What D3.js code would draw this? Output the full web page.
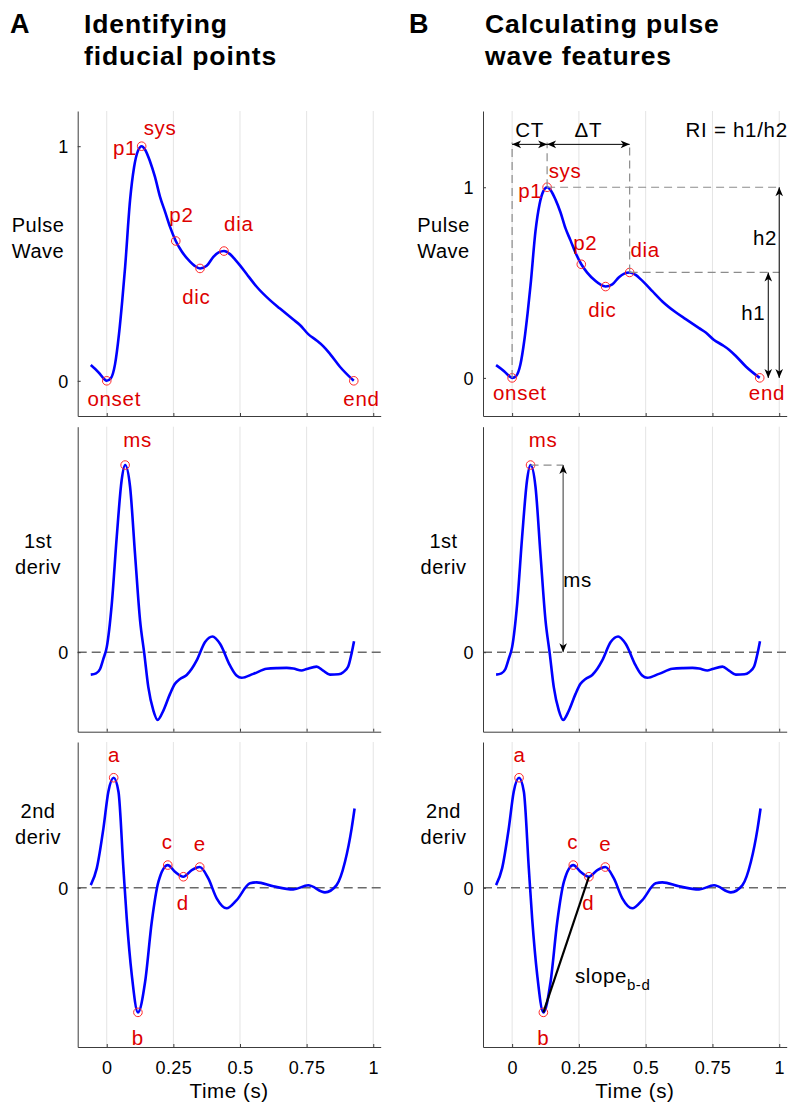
<!DOCTYPE html>
<html><head><meta charset="utf-8">
<script src="https://cdn.jsdelivr.net/npm/d3@7"></script>
<style>
body{margin:0;background:#fff}
svg{display:block}
text{font-family:"Liberation Sans", Arial, Helvetica, sans-serif}
</style>
</head><body>
<svg id="c" width="800" height="1117"></svg>
<script>
// ---------------- DATA ----------------
const xTicks = [0, 0.25, 0.5, 0.75, 1];
const xTickLabels = ["0", "0.25", "0.5", "0.75", "1"];

// Pulse wave (normalised)
const pulseT = [-0.06,-0.03,-0.01,0,0.015,0.031,0.046,0.058,0.069,0.0875,0.1025,0.117,0.131,0.144,0.1625,0.181,0.2,0.219,0.2375,0.259,0.281,0.3125,0.33,0.35,0.375,0.4,0.42,0.44,0.4625,0.481,0.5,0.525,0.5625,0.6125,0.65,0.7,0.725,0.756,0.7875,0.812,0.8375,0.875,0.927];
const pulseV = [0.067,0.035,0.008,0,0.01,0.07,0.2,0.34,0.486,0.77,0.91,0.98,1.0,0.985,0.935,0.869,0.784,0.72,0.656,0.596,0.552,0.508,0.49,0.479,0.49,0.528,0.547,0.553,0.54,0.518,0.492,0.455,0.401,0.344,0.308,0.261,0.238,0.199,0.172,0.148,0.115,0.06,0];

// First derivative (scaled so ms = 1)
const d1T = [-0.06,-0.04,-0.025,-0.0125,0,0.019,0.0375,0.056,0.069,0.0875,0.106,0.125,0.141,0.156,0.175,0.191,0.2125,0.2375,0.256,0.275,0.3,0.319,0.3375,0.369,0.397,0.425,0.4625,0.487,0.506,0.55,0.6,0.64,0.675,0.7,0.731,0.75,0.7875,0.812,0.8375,0.87,0.8875,0.906,0.919,0.928];
const d1V = [-0.12,-0.113,-0.09,-0.035,0.027,0.26,0.616,0.92,1.0,0.884,0.527,0.17,-0.009,-0.187,-0.312,-0.362,-0.312,-0.223,-0.169,-0.143,-0.122,-0.089,-0.044,0.054,0.084,0.045,-0.071,-0.125,-0.137,-0.116,-0.089,-0.085,-0.084,-0.087,-0.098,-0.09,-0.077,-0.098,-0.12,-0.118,-0.107,-0.077,-0.005,0.059];

// Second derivative (scaled so a = 1)
const d2T = [-0.06,-0.0375,-0.0125,0.006,0.026,0.044,0.0625,0.075,0.094,0.117,0.144,0.169,0.194,0.229,0.256,0.2875,0.319,0.349,0.381,0.4125,0.45,0.4875,0.5375,0.5625,0.625,0.7,0.756,0.819,0.8625,0.894,0.919,0.93];
const d2V = [0.024,0.176,0.54,0.873,1.0,0.873,0.176,-0.278,-0.794,-1.133,-0.855,-0.309,0.055,0.206,0.145,0.1,0.16,0.188,0.085,-0.096,-0.187,-0.112,0.04,0.049,0.013,-0.015,0.022,-0.042,0.024,0.236,0.54,0.72];

// Fiducial points
const pulseFidT = [0, 0.131, 0.259, 0.35, 0.44, 0.927];
const pulseFidV = [0, 1, 0.596, 0.479, 0.553, 0];
const pulseLabelNames = ["onset","sys","p1","p2","dic","dia","end"];
const pulseLabelIdx = [0,1,1,2,3,4,5];

const d1FidT = [0.069];
const d1FidV = [1];
const d1LabelNames = ["ms"];

const d2FidT = [0.026, 0.117, 0.229, 0.2875, 0.349];
const d2FidV = [1, -1.133, 0.206, 0.1, 0.188];
const d2LabelNames = ["a","b","c","d","e"];

// Feature annotation values (panel B)
const arrowLevel = 1.225;       // height of CT / ΔT arrows (pulse units)
const dashTop = 1.235;
const h2X = 1.0, h1X = 0.959;   // time positions of h2 / h1 arrows
const msArrowX = 0.191;

// ---------------- LAYOUT ----------------
const FONT = '"Liberation Sans", Arial, Helvetica, sans-serif';
const RED = "#dd0000";
const svg = d3.select("#c");
const defs = svg.append("defs");
defs.append("marker").attr("id","ah").attr("viewBox","-10 -5 10 10")
  .attr("refX",0).attr("refY",0).attr("markerWidth",10).attr("markerHeight",10)
  .attr("markerUnits","userSpaceOnUse").attr("orient","auto-start-reverse")
  .append("path").attr("d","M0,0 L-9,-3.8 L-6.5,0 L-9,3.8 Z").attr("fill","#000");

const cols = [{x0:77.7, x1:380.7, ylab:38}, {x0:483, x1:786.7, ylab:443.5}];
const rows = [{top:111, bot:416}, {top:426.7, bot:731.7}, {top:742, bot:1047}];
const xDomain = [-0.109, 1.028];

function makeX(c){ return d3.scaleLinear().domain(xDomain).range([c.x0, c.x1]); }

function drawPanel(c, r, yDom, tArr, vArr, opts){
  const x = makeX(c);
  const y = d3.scaleLinear().domain(yDom).range([r.bot, r.top]);
  const g = svg.append("g");
  g.selectAll(".grid").data(xTicks).join("line")
    .attr("x1", d=>x(d)).attr("x2", d=>x(d)).attr("y1", r.top).attr("y2", r.bot)
    .attr("stroke","#e4e4e4").attr("stroke-width",1);
  if (opts.zero){
    g.append("line").attr("x1",c.x0).attr("x2",c.x1).attr("y1",y(0)).attr("y2",y(0))
      .attr("stroke","#6a6a6a").attr("stroke-width",1.5).attr("stroke-dasharray","9,5");
  }
  const ax = g.append("g").attr("transform",`translate(0,${r.bot})`)
    .call(d3.axisBottom(x).tickValues(xTicks).tickSize(-3).tickSizeOuter(0).tickPadding(14)
      .tickFormat((d,i)=> opts.xlabels ? xTickLabels[i] : ""));
  const ay = g.append("g").attr("transform",`translate(${c.x0},0)`)
    .call(d3.axisLeft(y).tickValues(opts.yticks).tickSize(-3).tickSizeOuter(0).tickPadding(9)
      .tickFormat(d3.format("d")));
  [ax, ay].forEach(a=>{
    a.attr("font-family", FONT).attr("font-size", 18);
    a.select(".domain").attr("stroke","#3c3c3c").attr("stroke-width",1);
    a.selectAll(".tick line").attr("stroke","#3c3c3c");
    a.selectAll(".tick text").attr("fill","#000").style("letter-spacing","0.4px");
  });
  ay.selectAll(".tick text").attr("dy","0.35em");
  const curve = d3.line().x((d,i)=>x(tArr[i])).y((d,i)=>y(vArr[i])).curve(d3.curveMonotoneX);
  g.append("path").attr("d", curve(tArr)).attr("fill","none").attr("stroke","#0000ff")
    .attr("stroke-width",2.6).attr("stroke-linejoin","round");
  return {g, x, y};
}

function markers(p, ft, fv){
  p.g.selectAll(".mk").data(ft).join("circle")
    .attr("cx",(d,i)=>p.x(ft[i])).attr("cy",(d,i)=>p.y(fv[i])).attr("r",4.3)
    .attr("fill","none").attr("stroke","#ff2a2a").attr("stroke-width",1);
}

function labels(p, names, idx, ft, fv, offs){
  names.forEach((n,k)=>{
    const i = idx[k];
    p.g.append("text").attr("x", p.x(ft[i]) + offs[n][0]).attr("y", p.y(fv[i]) + offs[n][1])
      .attr("text-anchor","middle").attr("font-size",20.5).attr("fill",RED)
      .style("letter-spacing","0.7px").text(n);
  });
}

function ylabel(c, lines, y0){
  lines.forEach((l,i)=>{
    svg.append("text").attr("x",c.ylab).attr("y",y0 + i*26).attr("text-anchor","middle")
      .attr("font-size",20).style("letter-spacing","0.5px").attr("fill","#000").text(l);
  });
}

function heading(x, letter, x2, lines){
  svg.append("text").attr("x",x).attr("y",33).attr("font-size",27).attr("font-weight","bold").text(letter);
  lines.forEach((l,i)=> svg.append("text").attr("x",x2).attr("y",33+i*32).attr("font-size",26.5)
    .attr("font-weight","bold").style("letter-spacing","0.9px").text(l));
}
heading(10,"A",84,["Identifying","fiducial points"]);
heading(409,"B",485,["Calculating pulse","wave features"]);

const pulseOffsA = {onset:[7.5,25.2], sys:[18.4,-11.2], p1:[-16.6,8.8], p2:[5.7,-19.3], dic:[-3.7,36], dia:[14.8,-20], end:[7.7,25.2]};
const pulseOffsB = {onset:[7.7,22], sys:[18,-9], p1:[-16.8,11], p2:[4,-14], dic:[-3.2,30], dia:[15.5,-15.4], end:[7.3,22]};
const d1Offs = {ms:[12.5,-18]};
const d2Offs = {a:[0.5,-16], b:[0,33], c:[-0.5,-16], d:[-0.5,33.5], e:[0,-16]};

[0,1].forEach(ci=>{
  const c = cols[ci];
  const p0 = drawPanel(c, rows[0], ci===0 ? [-0.15,1.15] : [-0.2,1.4], pulseT, pulseV, {yticks:[0,1]});
  markers(p0, pulseFidT, pulseFidV);
  labels(p0, pulseLabelNames, pulseLabelIdx, pulseFidT, pulseFidV, ci===0 ? pulseOffsA : pulseOffsB);
  ylabel(c, ["Pulse","Wave"], 231.7);
  const p1 = drawPanel(c, rows[1], [-0.425,1.205], d1T, d1V, {yticks:[0], zero:true});
  markers(p1, d1FidT, d1FidV);
  labels(p1, d1LabelNames, [0], d1FidT, d1FidV, d1Offs);
  ylabel(c, ["1st","deriv"], 547.7);
  const p2 = drawPanel(c, rows[2], [-1.448,1.325], d2T, d2V, {yticks:[0], zero:true, xlabels:true});
  markers(p2, d2FidT, d2FidV);
  labels(p2, d2LabelNames, [0,1,2,3,4], d2FidT, d2FidV, d2Offs);
  ylabel(c, ["2nd","deriv"], 818.3);
  svg.append("text").attr("x",(c.x0+c.x1)/2).attr("y",1098).attr("text-anchor","middle")
    .attr("font-size",20.5).style("letter-spacing","0.6px").text("Time (s)");

  if (ci===1){
    const {g, x, y} = p0;
    const dash = sel => sel.attr("stroke","#8c8c8c").attr("stroke-width",1.2).attr("stroke-dasharray","8,5").attr("fill","none");
    const on = 0, sys = 1, dia = 4;
    [on, sys, dia].forEach(i=>{
      g.append("line").attr("x1",x(pulseFidT[i])).attr("x2",x(pulseFidT[i]))
        .attr("y1",y(pulseFidV[i])).attr("y2",y(dashTop)).call(dash);
    });
    [sys, dia].forEach(i=>{
      g.append("line").attr("x1",x(pulseFidT[i])).attr("x2",x(h2X))
        .attr("y1",y(pulseFidV[i])).attr("y2",y(pulseFidV[i])).call(dash);
    });
    const arrow = (x1,y1,x2,y2)=> g.append("line").attr("x1",x1).attr("y1",y1).attr("x2",x2).attr("y2",y2)
      .attr("stroke","#000").attr("stroke-width",1).attr("marker-start","url(#ah)").attr("marker-end","url(#ah)");
    arrow(x(pulseFidT[on]), y(arrowLevel), x(pulseFidT[sys]), y(arrowLevel));
    arrow(x(pulseFidT[sys]), y(arrowLevel), x(pulseFidT[dia]), y(arrowLevel));
    arrow(x(h2X), y(pulseFidV[sys]), x(h2X), y(0));
    arrow(x(h1X), y(pulseFidV[dia]), x(h1X), y(0));
    const blk = (tx,ty,s,anchor)=> g.append("text").attr("x",tx).attr("y",ty).attr("text-anchor",anchor||"middle")
      .attr("font-size",20.5).style("letter-spacing","0.7px").attr("fill","#000").text(s);
    blk(x((pulseFidT[on]+pulseFidT[sys])/2), y(1.266), "CT");
    blk(x((pulseFidT[sys]+pulseFidT[dia])/2), y(1.266), "\u0394T");
    blk(x(1.032), y(1.266), "RI = h1/h2", "end");
    blk(x(0.947), y(0.697), "h2");
    blk(x(0.903), y(0.304), "h1");

    const q = p1;
    q.g.append("line").attr("x1",q.x(d1FidT[0])).attr("x2",q.x(msArrowX)).attr("y1",q.y(d1FidV[0])).attr("y2",q.y(d1FidV[0])).call(dash);
    q.g.append("line").attr("x1",q.x(msArrowX)).attr("x2",q.x(msArrowX)).attr("y1",q.y(d1FidV[0])).attr("y2",q.y(0))
      .attr("stroke","#555").attr("stroke-width",1.2).attr("marker-start","url(#ah)").attr("marker-end","url(#ah)");
    q.g.append("text").attr("x",q.x(msArrowX)).attr("y",q.y(0.35)).attr("font-size",20.5).style("letter-spacing","0.7px").text("ms");

    const s = p2;
    s.g.append("line").attr("x1",s.x(d2FidT[1])).attr("y1",s.y(d2FidV[1])).attr("x2",s.x(d2FidT[3])).attr("y2",s.y(d2FidV[3]))
      .attr("stroke","#000").attr("stroke-width",2.2);
    const t = s.g.append("text").attr("x",s.x(0.235)).attr("y",s.y(-0.869)).attr("font-size",20.5).style("letter-spacing","0.6px");
    t.append("tspan").text("slope");
    t.append("tspan").attr("dy",7).attr("font-size",15).text("b-d");
  }
});
</script>
</body></html>
